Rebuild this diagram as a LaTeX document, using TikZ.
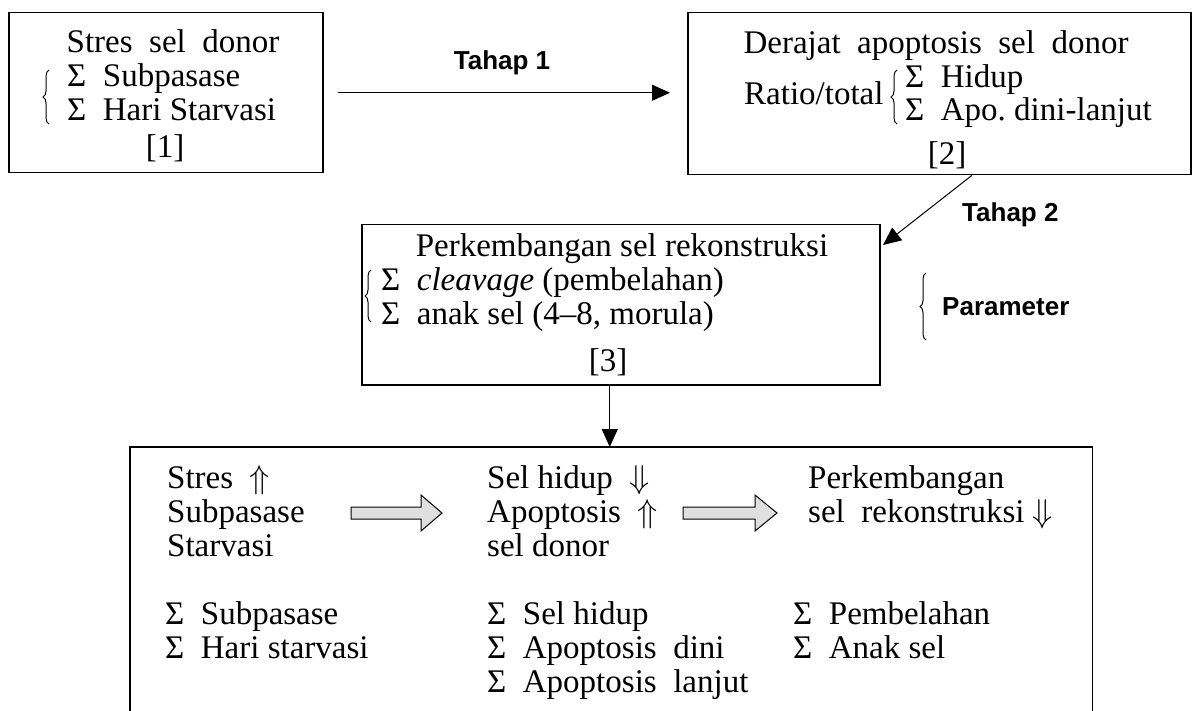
\RequirePackage{fix-cm}
\documentclass[tikz,border=0pt]{standalone}
\usepackage{fontspec}
\setmainfont{Liberation Serif}
\newfontfamily\lsans{Liberation Sans}
\usetikzlibrary{arrows.meta,decorations.pathreplacing}
\begin{document}
\begin{tikzpicture}[x=1pt,y=-1pt,
  box/.style={draw, line width=1.5pt, inner sep=0, anchor=north west},
  txt/.style={inner sep=0, anchor=base west, font=\fontsize{33}{34}\selectfont},
  ctxt/.style={txt, anchor=base},
  lab/.style={inner sep=0, anchor=base west, font=\lsans\bfseries\fontsize{26}{28}\selectfont},
  arr/.style={-{Triangle[length=18pt,width=16pt]}, line width=1.2pt},
  brc/.style={decorate, decoration={brace, amplitude=6pt}, line width=1pt},
  garrow/.style={draw, line width=1pt, fill=gray!25}]
\useasboundingbox (0,0) rectangle (1201,711);

% boxes
\node[box, minimum width=314pt, minimum height=160pt] (b1) at (8,12) {};
\node[box, minimum width=503pt, minimum height=162pt] (b2) at (687,12) {};
\node[box, minimum width=518pt, minimum height=160pt] (b3) at (361,224) {};
\node[inner sep=0, anchor=north west, minimum width=962pt, minimum height=270pt] (b4) at (130,447) {};
\draw[line width=1.5pt] (b4.south west) -- (b4.north west) -- (b4.north east) -- (b4.south east);

% box 1
\node[ctxt] (t1a) at (173,53) {Stres~ sel~ donor};
\draw[brc] (49,124) -- (49,70);
\node[txt] (t1b) at (67,87) {Σ~ Subpasase};
\node[txt] (t1c) at (67,121) {Σ~ Hari Starvasi};
\node[ctxt] (t1d) at (165,158) {[1]};

% box 2
\node[ctxt] (t2a) at (936,54) {Derajat~ apoptosis~ sel~ donor};
\node[txt] (t2r) at (744,105) {Ratio/total};
\draw[brc] (897,124) -- (897,70);
\node[txt] (t2b) at (905,88) {Σ~ Hidup};
\node[txt] (t2c) at (905,121) {Σ~ Apo.\ dini-lanjut};
\node[ctxt] (t2d) at (947,165) {[2]};

% box 3
\node[ctxt] (t3a) at (622,256) {Perkembangan sel rekonstruksi};
\draw[brc] (371,322) -- (371,270);
\node[txt] (t3b) at (381,290) {Σ~ \textit{cleavage} (pembelahan)};
\node[txt] (t3c) at (381,324) {Σ~ anak sel (4–8, morula)};
\node[ctxt] (t3d) at (608,371) {[3]};

% labels
\node[lab, anchor=base] (l1) at (502,70) {Tahap 1};
\node[lab] (l2) at (962,222) {Tahap 2};
\draw[brc] (926,340) -- (926,273);
\node[lab] (l3) at (942,315) {Parameter};

% connectors
\draw[arr] ([xshift=14pt]b1.east) -- ([xshift=-17pt]b1.east -| b2.west);
\coordinate (t2e) at (883,245);
\draw[arr, line width=1pt] ([xshift=32.5pt]b2.south) -- (t2e);
\draw[arr] ([xshift=-11pt]b3.south) -- ([xshift=-11pt]b3.south |- b4.north);

% bottom box texts
\node[txt] (c1a) at (167,488) {Stres~ $\Uparrow$};
\node[txt] (c1b) at (167,522) {Subpasase};
\node[txt] (c1c) at (167,556) {Starvasi};
\node[txt] (c2a) at (487,488) {Sel hidup~ $\Downarrow$};
\node[txt] (c2b) at (487,522) {Apoptosis~ $\Uparrow$};
\node[txt] (c2c) at (487,556) {sel donor};
\node[txt] (c3a) at (808,488) {Perkembangan};
\node[txt] (c3b) at (808,522) {sel~ rekonstruksi $\Downarrow$};

\node[txt] (d1a) at (165,624) {Σ~ Subpasase};
\node[txt] (d1b) at (165,658) {Σ~ Hari starvasi};
\node[txt] (d2a) at (487,624) {Σ~ Sel hidup};
\node[txt] (d2b) at (487,658) {Σ~ Apoptosis~ dini};
\node[txt] (d2c) at (487,692) {Σ~ Apoptosis~ lanjut};
\node[txt] (d3a) at (793,624) {Σ~ Pembelahan};
\node[txt] (d3b) at (793,658) {Σ~ Anak sel};

% gray arrows
\draw[garrow] (351,507) -- (421,507) -- (421,495) -- (442,513) -- (421,531) -- (421,519) -- (351,519) -- cycle;
\draw[garrow] (683,507) -- (755,507) -- (755,495) -- (777,513) -- (755,531) -- (755,519) -- (683,519) -- cycle;
\end{tikzpicture}
\end{document}
